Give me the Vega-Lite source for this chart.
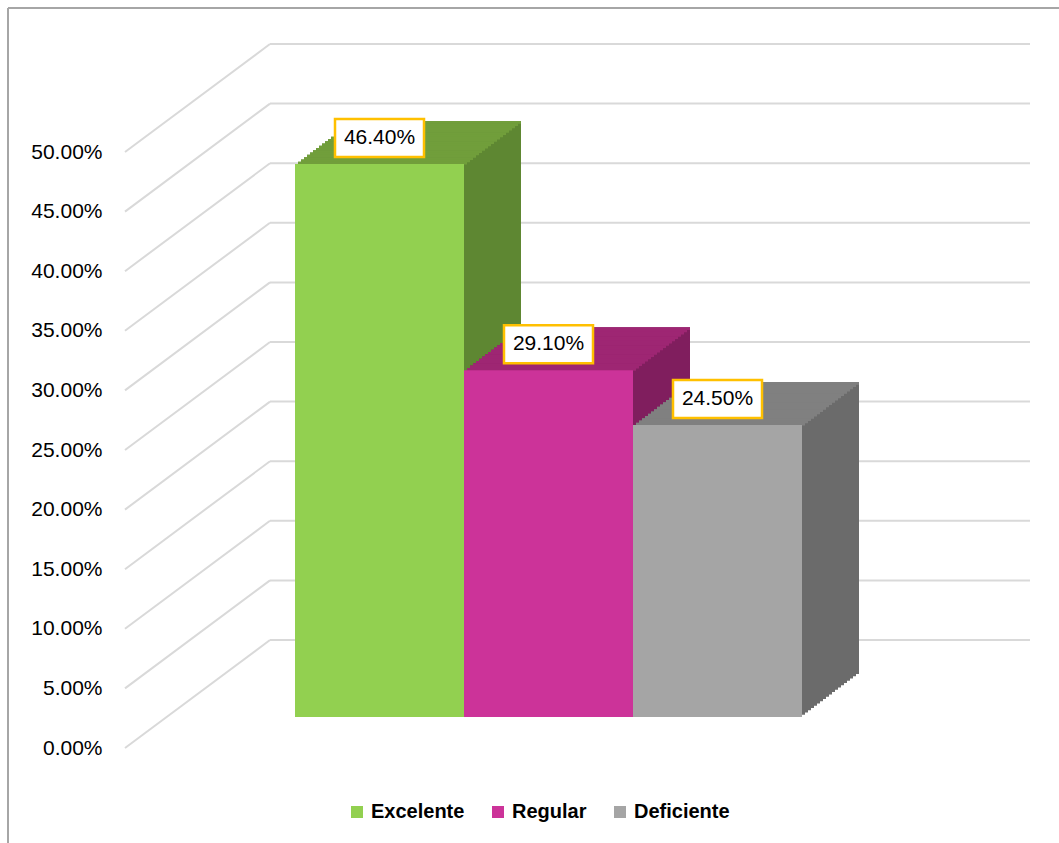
{
  "$schema": "https://vega.github.io/schema/vega-lite/v6.json",
  "width": 1051,
  "height": 835,
  "autosize": {"type": "none"},
  "padding": {"left": 8, "top": 8, "right": 0, "bottom": 0},
  "background": "white",
  "config": {"view": {"stroke": null}, "font": "Liberation Sans"},
  "datasets": {
    "bars": [
      {"cat": "Excelente", "value": 0.464},
      {"cat": "Regular", "value": 0.291},
      {"cat": "Deficiente", "value": 0.245}
    ],
    "ticks": [
      {"v": 0}, {"v": 0.05}, {"v": 0.1}, {"v": 0.15}, {"v": 0.2}, {"v": 0.25},
      {"v": 0.3}, {"v": 0.35}, {"v": 0.4}, {"v": 0.45}, {"v": 0.5}
    ],
    "frame": [{"edge": "frame"}]
  },
  "data": {"name": "bars"},
  "resolve": {"scale": {"color": "independent"}},
  "layer": [
    {
      "data": {"name": "frame"},
      "mark": {"type": "rule", "color": "#A6A6A6", "strokeWidth": 2},
      "encoding": {"x": {"value": 0}, "x2": {"value": "width"}, "y": {"value": 0}}
    },
    {
      "data": {"name": "frame"},
      "mark": {"type": "rule", "color": "#A6A6A6", "strokeWidth": 2},
      "encoding": {"x": {"value": 0}, "y": {"value": 0}, "y2": {"value": "height"}}
    },
    {
      "data": {"name": "ticks"},
      "mark": {"type": "rule", "color": "#D9D9D9", "strokeWidth": 2, "y2Offset": -108},
      "encoding": {
        "x": {"value": 117},
        "x2": {"value": 262},
        "y": {
          "field": "v", "type": "quantitative", "title": null,
          "scale": {"domain": [-0.07969, 0.62081], "nice": false, "zero": false},
          "axis": {
            "orient": "left", "offset": -94, "labelPadding": 0, "ticks": false, "tickSize": 0,
            "domain": false, "grid": false,
            "values": [0, 0.05, 0.1, 0.15, 0.2, 0.25, 0.3, 0.35, 0.4, 0.45, 0.5],
            "format": ".2%", "labelFontSize": 21, "labelColor": "#000000", "labelFont": "Liberation Sans",
            "labelOverlap": false, "labelFlush": false, "labelBound": false, "title": null
          }
        },
        "y2": {"field": "v"}
      }
    },
    {
      "data": {"name": "ticks"},
      "mark": {"type": "rule", "color": "#D9D9D9", "strokeWidth": 2, "yOffset": -108},
      "encoding": {
        "x": {"value": 262},
        "x2": {"value": 1022},
        "y": {"field": "v", "type": "quantitative", "title": null, "scale": {"domain": [-0.07969, 0.62081], "nice": false, "zero": false}}
      }
    },
    {
      "encoding": {
        "x": {"field": "cat", "type": "nominal", "sort": null, "scale": {"domain": ["Excelente", "Regular", "Deficiente"], "range": [287, 794], "paddingInner": 0, "paddingOuter": 0}, "axis": null},
        "y": {"field": "value", "type": "quantitative", "title": null, "scale": {"domain": [-0.07969, 0.62081], "nice": false, "zero": false}},
        "y2": {"datum": 0},
        "color": {"field": "cat", "type": "nominal", "scale": {"domain": ["Excelente", "Regular", "Deficiente"], "range": ["#5E8732", "#801E5E", "#6B6B6B"]}, "legend": null}
      },
      "layer": [
        {"mark": {"type": "bar", "xOffset": 57, "yOffset": -74, "y2Offset": -74}},
        {"mark": {"type": "bar", "xOffset": 54, "yOffset": -71.74, "y2Offset": -71.74}},
        {"mark": {"type": "bar", "xOffset": 51, "yOffset": -69.47, "y2Offset": -69.47}},
        {"mark": {"type": "bar", "xOffset": 48, "yOffset": -67.21, "y2Offset": -67.21}},
        {"mark": {"type": "bar", "xOffset": 45, "yOffset": -64.95, "y2Offset": -64.95}},
        {"mark": {"type": "bar", "xOffset": 42, "yOffset": -62.68, "y2Offset": -62.68}},
        {"mark": {"type": "bar", "xOffset": 39, "yOffset": -60.42, "y2Offset": -60.42}},
        {"mark": {"type": "bar", "xOffset": 36, "yOffset": -58.16, "y2Offset": -58.16}},
        {"mark": {"type": "bar", "xOffset": 33, "yOffset": -55.89, "y2Offset": -55.89}},
        {"mark": {"type": "bar", "xOffset": 30, "yOffset": -53.63, "y2Offset": -53.63}},
        {"mark": {"type": "bar", "xOffset": 27, "yOffset": -51.37, "y2Offset": -51.37}},
        {"mark": {"type": "bar", "xOffset": 24, "yOffset": -49.11, "y2Offset": -49.11}},
        {"mark": {"type": "bar", "xOffset": 21, "yOffset": -46.84, "y2Offset": -46.84}},
        {"mark": {"type": "bar", "xOffset": 18, "yOffset": -44.58, "y2Offset": -44.58}},
        {"mark": {"type": "bar", "xOffset": 15, "yOffset": -42.32, "y2Offset": -42.32}},
        {"mark": {"type": "bar", "xOffset": 12, "yOffset": -40.05, "y2Offset": -40.05}},
        {"mark": {"type": "bar", "xOffset": 9, "yOffset": -37.79, "y2Offset": -37.79}},
        {"mark": {"type": "bar", "xOffset": 6, "yOffset": -35.53, "y2Offset": -35.53}},
        {"mark": {"type": "bar", "xOffset": 3, "yOffset": -33.26, "y2Offset": -33.26}}
      ]
    },
    {
      "encoding": {
        "x": {"field": "cat", "type": "nominal", "sort": null, "scale": {"domain": ["Excelente", "Regular", "Deficiente"], "range": [287, 794], "paddingInner": 0, "paddingOuter": 0}, "axis": null},
        "y": {"field": "value", "type": "quantitative", "title": null, "scale": {"domain": [-0.07969, 0.62081], "nice": false, "zero": false}},
        "y2": {"field": "value"},
        "color": {"field": "cat", "type": "nominal", "scale": {"domain": ["Excelente", "Regular", "Deficiente"], "range": ["#719E3B", "#9E2673", "#808080"]}, "legend": null}
      },
      "layer": [
        {"mark": {"type": "bar", "xOffset": 57, "yOffset": -74, "y2Offset": -71.24}},
        {"mark": {"type": "bar", "xOffset": 54, "yOffset": -71.74, "y2Offset": -68.97}},
        {"mark": {"type": "bar", "xOffset": 51, "yOffset": -69.47, "y2Offset": -66.71}},
        {"mark": {"type": "bar", "xOffset": 48, "yOffset": -67.21, "y2Offset": -64.45}},
        {"mark": {"type": "bar", "xOffset": 45, "yOffset": -64.95, "y2Offset": -62.18}},
        {"mark": {"type": "bar", "xOffset": 42, "yOffset": -62.68, "y2Offset": -59.92}},
        {"mark": {"type": "bar", "xOffset": 39, "yOffset": -60.42, "y2Offset": -57.66}},
        {"mark": {"type": "bar", "xOffset": 36, "yOffset": -58.16, "y2Offset": -55.39}},
        {"mark": {"type": "bar", "xOffset": 33, "yOffset": -55.89, "y2Offset": -53.13}},
        {"mark": {"type": "bar", "xOffset": 30, "yOffset": -53.63, "y2Offset": -50.87}},
        {"mark": {"type": "bar", "xOffset": 27, "yOffset": -51.37, "y2Offset": -48.61}},
        {"mark": {"type": "bar", "xOffset": 24, "yOffset": -49.11, "y2Offset": -46.34}},
        {"mark": {"type": "bar", "xOffset": 21, "yOffset": -46.84, "y2Offset": -44.08}},
        {"mark": {"type": "bar", "xOffset": 18, "yOffset": -44.58, "y2Offset": -41.82}},
        {"mark": {"type": "bar", "xOffset": 15, "yOffset": -42.32, "y2Offset": -39.55}},
        {"mark": {"type": "bar", "xOffset": 12, "yOffset": -40.05, "y2Offset": -37.29}},
        {"mark": {"type": "bar", "xOffset": 9, "yOffset": -37.79, "y2Offset": -35.03}},
        {"mark": {"type": "bar", "xOffset": 6, "yOffset": -35.53, "y2Offset": -32.76}},
        {"mark": {"type": "bar", "xOffset": 3, "yOffset": -33.26, "y2Offset": -30.5}}
      ]
    },
    {
      "mark": {"type": "bar", "yOffset": -31, "y2Offset": -31},
      "encoding": {
        "x": {"field": "cat", "type": "nominal", "sort": null, "scale": {"domain": ["Excelente", "Regular", "Deficiente"], "range": [287, 794], "paddingInner": 0, "paddingOuter": 0}, "axis": null},
        "y": {"field": "value", "type": "quantitative", "title": null, "scale": {"domain": [-0.07969, 0.62081], "nice": false, "zero": false}},
        "y2": {"datum": 0},
        "color": {
          "field": "cat", "type": "nominal",
          "scale": {"domain": ["Excelente", "Regular", "Deficiente"], "range": ["#92D050", "#CC3399", "#A5A5A5"]},
          "legend": {
            "orient": "none", "legendX": 339, "legendY": 794, "direction": "horizontal", "title": null,
            "symbolType": "square", "symbolSize": 144, "symbolStrokeWidth": 0, "symbolOpacity": 1,
            "labelFontSize": 20, "labelFontWeight": "bold", "labelColor": "#000000", "labelFont": "Liberation Sans",
            "labelOffset": 4, "columnPadding": 23
          }
        }
      }
    },
    {
      "mark": {"type": "bar", "width": 89, "yOffset": -76, "y2Offset": -38, "fill": "#FFFFFF", "stroke": "#FFC000", "strokeWidth": 2.5},
      "encoding": {
        "x": {"field": "cat", "type": "nominal", "sort": null, "scale": {"domain": ["Excelente", "Regular", "Deficiente"], "range": [287, 794], "paddingInner": 0, "paddingOuter": 0}, "axis": null},
        "y": {"field": "value", "type": "quantitative", "title": null, "scale": {"domain": [-0.07969, 0.62081], "nice": false, "zero": false}},
        "y2": {"field": "value"}
      }
    },
    {
      "mark": {"type": "text", "yOffset": -57, "baseline": "middle", "align": "center", "fontSize": 21, "font": "Liberation Sans", "color": "#000000"},
      "encoding": {
        "x": {"field": "cat", "type": "nominal", "sort": null, "scale": {"domain": ["Excelente", "Regular", "Deficiente"], "range": [287, 794], "paddingInner": 0, "paddingOuter": 0}, "axis": null},
        "y": {"field": "value", "type": "quantitative", "title": null, "scale": {"domain": [-0.07969, 0.62081], "nice": false, "zero": false}},
        "text": {"field": "value", "type": "quantitative", "format": ".2%"}
      }
    }
  ]
}
